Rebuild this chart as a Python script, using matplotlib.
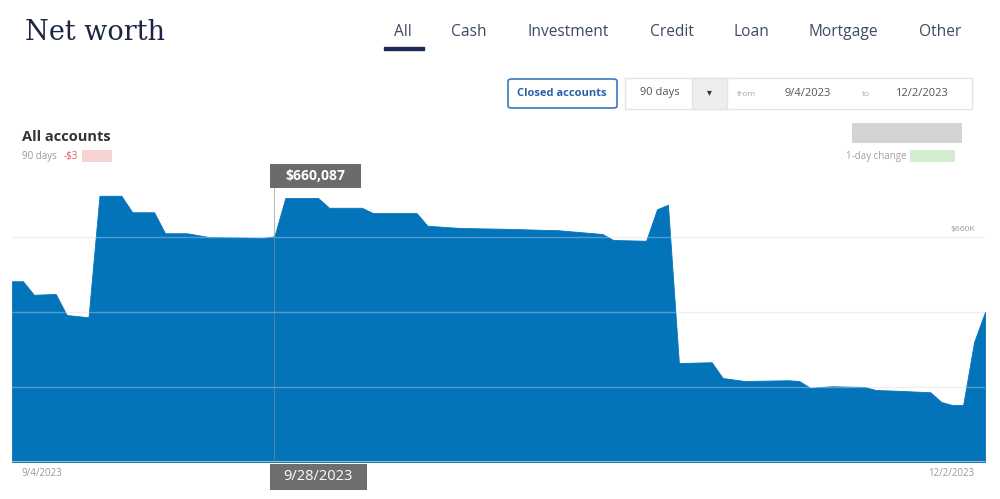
import matplotlib
matplotlib.use("Agg")
import matplotlib.pyplot as plt
from matplotlib.patches import Rectangle, FancyBboxPatch
import pandas as pd

# net worth (thousands of $)
dates = ["2023-09-04", "2023-09-05", "2023-09-06", "2023-09-08", "2023-09-09",
         "2023-09-11", "2023-09-12", "2023-09-14", "2023-09-15", "2023-09-17",
         "2023-09-18", "2023-09-20", "2023-09-22", "2023-09-27", "2023-09-28",
         "2023-09-29", "2023-10-02", "2023-10-03", "2023-10-06", "2023-10-07",
         "2023-10-11", "2023-10-12", "2023-10-15", "2023-10-19", "2023-10-24",
         "2023-10-28", "2023-10-29", "2023-11-01", "2023-11-02", "2023-11-03",
         "2023-11-04", "2023-11-07", "2023-11-08", "2023-11-10", "2023-11-14",
         "2023-11-15", "2023-11-16", "2023-11-18", "2023-11-21", "2023-11-22",
         "2023-11-24", "2023-11-27", "2023-11-28", "2023-11-29", "2023-11-30",
         "2023-12-01", "2023-12-02"]
values = [654.1, 654.1, 652.3, 652.4, 649.6,
          649.3, 665.5, 665.5, 663.3, 663.3,
          660.5, 660.5, 660.0, 659.9, 660.087,
          665.2, 665.2, 663.9, 663.9, 663.2,
          663.2, 661.5, 661.2, 661.1, 660.9,
          660.4, 659.6, 659.5, 663.7, 664.3,
          643.2, 643.3, 641.2, 640.8, 640.9,
          640.8, 639.9, 640.1, 640.0, 639.6,
          639.5, 639.3, 638.0, 637.6, 637.6,
          646.0, 650.0]
grid_levels = [640, 650, 660]
tabs = ["All", "Cash", "Investment", "Credit", "Loan", "Mortgage", "Other"]
tab_x = [403, 469, 568, 672, 751, 843, 940]
hover_date = "2023-09-28"
hover_value = "$660,087"

x = pd.to_datetime(dates)
W, H = 1000, 499
BLUE = "#0474ba"
ui = ["Open Sans", "DejaVu Sans"]


def fx(px):
    return px / W


def fy(py):
    return 1 - py / H


fig = plt.figure(figsize=(10, 4.99), dpi=100)
fig.patch.set_facecolor("white")

ax = fig.add_axes([fx(12), fy(462), fx(985) - fx(12), (462 - 180) / H])
ax.fill_between(x, values, 630, color=BLUE, lw=0.6, ec=BLUE, zorder=2)
for g in grid_levels:
    ax.axhline(g, color="#e8e8e8", lw=0.8, zorder=1)
    ax.axhline(g, color="white", lw=1.0, alpha=0.3, zorder=3)
ax.axhline(630, color="#c4c4c4", lw=1.2, zorder=4)
hx = pd.Timestamp(hover_date)
ax.plot([hx, hx], [630, 666.5], color="#8c8c8c", lw=0.8, alpha=0.6, zorder=4)
ax.set_xlim(x[0], x[-1])
ax.set_ylim(630, 667.6)
ax.axis("off")
ax.text(0.99, 660.6, "$660K", transform=ax.get_yaxis_transform(),
        ha="right", va="bottom", fontsize=6, color="#999999", family=ui)

# header
fig.text(fx(25), fy(33), "Net worth", fontsize=19.5, color="#1c2545",
         family=["DejaVu Serif"], va="center", ha="left")
for t, tx in zip(tabs, tab_x):
    fig.text(fx(tx), fy(32), t, fontsize=11.2, color="#3d4a66", family=ui,
             ha="center", va="center")
fig.add_artist(Rectangle((fx(384), fy(50)), fx(40), 3 / H, color="#1c2a55",
                         transform=fig.transFigure))

# controls
fig.add_artist(FancyBboxPatch((fx(508), fy(108)), fx(109), 29 / H,
                              boxstyle="round,pad=0,rounding_size=0.004",
                              fc="white", ec="#3a78c2", lw=1.2,
                              transform=fig.transFigure))
fig.text(fx(562), fy(93), "Closed accounts", fontsize=8, color="#2a62a8",
         weight="bold", family=ui, ha="center", va="center")
fig.add_artist(Rectangle((fx(625), fy(109)), fx(347), 31 / H, fc="white",
                         ec="#e4e4e4", lw=1, transform=fig.transFigure))
fig.add_artist(Rectangle((fx(692), fy(109)), fx(35), 31 / H, fc="#eeeeee",
                         ec="#e4e4e4", lw=1, transform=fig.transFigure))
fig.text(fx(660), fy(93), "90 days", fontsize=8, color="#555555", family=ui,
         ha="center", va="center")
fig.text(fx(709), fy(93), "\u25be", fontsize=7, color="#333333", family=ui,
         ha="center", va="center")
fig.text(fx(746), fy(94), "from", fontsize=6, color="#aaaaaa", family=ui,
         ha="center", va="center")
fig.text(fx(808), fy(93), "9/4/2023", fontsize=8, color="#555555", family=ui,
         ha="center", va="center")
fig.text(fx(866), fy(94), "to", fontsize=6, color="#aaaaaa", family=ui,
         ha="center", va="center")
fig.text(fx(921), fy(93), "12/2/2023", fontsize=8, color="#555555", family=ui,
         ha="center", va="center")

# summary labels
fig.text(fx(22), fy(137), "All accounts", fontsize=10.5, color="#333333",
         weight="bold", family=ui, ha="left", va="center")
fig.text(fx(22), fy(156), "90 days", fontsize=7, color="#999999", family=ui,
         ha="left", va="center")
fig.text(fx(64), fy(156), "-$3", fontsize=7, color="#e05a5a", family=ui,
         ha="left", va="center")
fig.add_artist(Rectangle((fx(82), fy(162)), fx(30), 12 / H, fc="#f6c9c9",
                         ec="none", alpha=0.8, transform=fig.transFigure))
fig.add_artist(Rectangle((fx(852), fy(143)), fx(110), 20 / H, fc="#c8c8c8",
                         ec="none", alpha=0.8, transform=fig.transFigure))
fig.text(fx(907), fy(156), "1-day change", fontsize=7, color="#a0a0a0",
         family=ui, ha="right", va="center")
fig.add_artist(Rectangle((fx(910), fy(162)), fx(45), 12 / H, fc="#cfeccc",
                         ec="none", alpha=0.9, transform=fig.transFigure))

# axis end labels
fig.text(fx(22), fy(473), "9/4/2023", fontsize=7, color="#999999", family=ui,
         ha="left", va="center")
fig.text(fx(974), fy(473), "12/2/2023", fontsize=7, color="#999999",
         family=ui, ha="right", va="center")

# hover tooltips
fig.add_artist(Rectangle((fx(270), fy(188)), fx(91), 24 / H, fc="#6b6b6b",
                         ec="none", transform=fig.transFigure))
fig.text(fx(315), fy(176), hover_value, fontsize=10, color="white",
         weight="bold", family=ui, ha="center", va="center")
fig.add_artist(Rectangle((fx(270), fy(490)), fx(97), 26 / H, fc="#6e6e6e",
                         ec="none", transform=fig.transFigure))
fig.text(fx(318), fy(477), "9/28/2023", fontsize=10.5, color="white",
         family=ui, ha="center", va="center")

fig.savefig("out.png", dpi=100, facecolor="white")
